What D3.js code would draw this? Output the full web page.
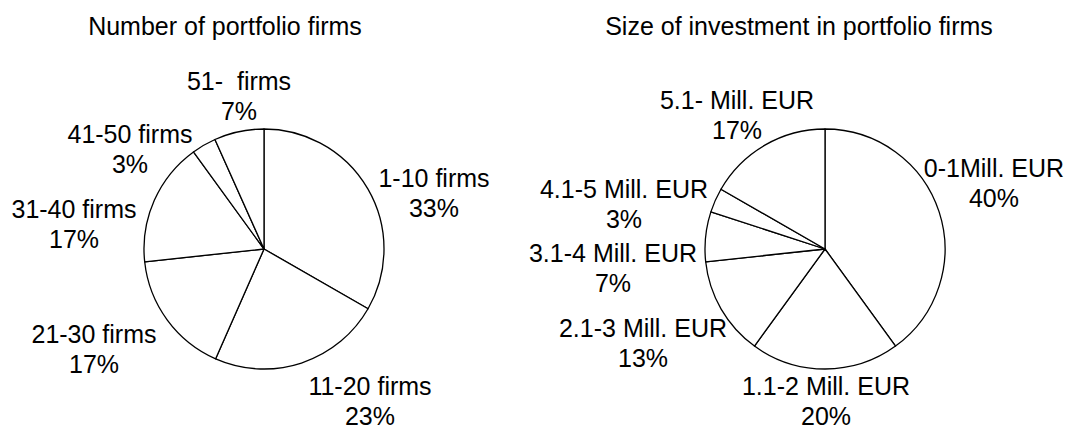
<!DOCTYPE html>
<html>
<head>
<meta charset="utf-8">
<script src="https://cdn.jsdelivr.net/npm/d3@7"></script>
<style>
  body { margin: 0; background: #fff; }
  text { font-family: "Liberation Sans", Arial, sans-serif; fill: #000; white-space: pre; }
</style>
</head>
<body>
<svg id="chart" width="1068" height="431"></svg>
<script>
// data (share of respondents, %)
const firmsTitle = "Number of portfolio firms";
const firmsLabels = ["1-10 firms", "11-20 firms", "21-30 firms", "31-40 firms", "41-50 firms", "51-  firms"];
const firmsValues = [33.3, 23.3, 16.7, 16.7, 3.3, 6.7];

const investTitle = "Size of investment in portfolio firms";
const investLabels = ["0-1Mill. EUR", "1.1-2 Mill. EUR", "2.1-3 Mill. EUR", "3.1-4 Mill. EUR", "4.1-5 Mill. EUR", "5.1- Mill. EUR"];
const investValues = [40, 20, 13.3, 6.7, 3.3, 16.7];

// label placement (text centre, first baseline) relative to pie centre
const firmsLabelPos = [[170, -62], [106, 146], [-170, 94], [-190, -31], [-134, -106], [-25, -159]];
const investLabelPos = [[169, -72], [1, 146], [-182, 88], [-212, 13], [-201, -51], [-88, -140]];

const svg = d3.select("#chart");
const radius = 120,
    lineGap = 30;

const pie = d3.pie().sort(null).value(d => d.value);
const arc = d3.arc().innerRadius(0).outerRadius(radius);

function drawPie(cx, cy, titleX, title, labels, values, labelPos) {
    svg.append("text")
        .attr("x", titleX)
        .attr("y", 35)
        .attr("text-anchor", "middle")
        .style("font-size", "25px")
        .text(title);

    const data = labels.map((l, i) => ({ label: l, value: values[i] }));
    const g = svg.append("g").attr("transform", `translate(${cx},${cy})`);

    g.selectAll("path")
        .data(pie(data))
        .join("path")
            .attr("d", arc)
            .attr("fill", "#fff")
            .attr("stroke", "#000")
            .attr("stroke-width", 1.3)
            .attr("stroke-linejoin", "round");

    const fmt = d3.format(".0f");
    const lbl = g.selectAll("text.lbl")
        .data(pie(data))
        .join("text")
            .attr("class", "lbl")
            .attr("text-anchor", "middle")
            .style("font-size", "25px");
    lbl.append("tspan")
        .attr("x", (d, i) => labelPos[i][0])
        .attr("y", (d, i) => labelPos[i][1])
        .text(d => d.data.label);
    lbl.append("tspan")
        .attr("x", (d, i) => labelPos[i][0])
        .attr("y", (d, i) => labelPos[i][1] + lineGap)
        .text(d => fmt(d.data.value) + "%");
}

drawPie(264, 249, 225, firmsTitle, firmsLabels, firmsValues, firmsLabelPos);
drawPie(825, 249, 799, investTitle, investLabels, investValues, investLabelPos);
</script>
</body>
</html>
